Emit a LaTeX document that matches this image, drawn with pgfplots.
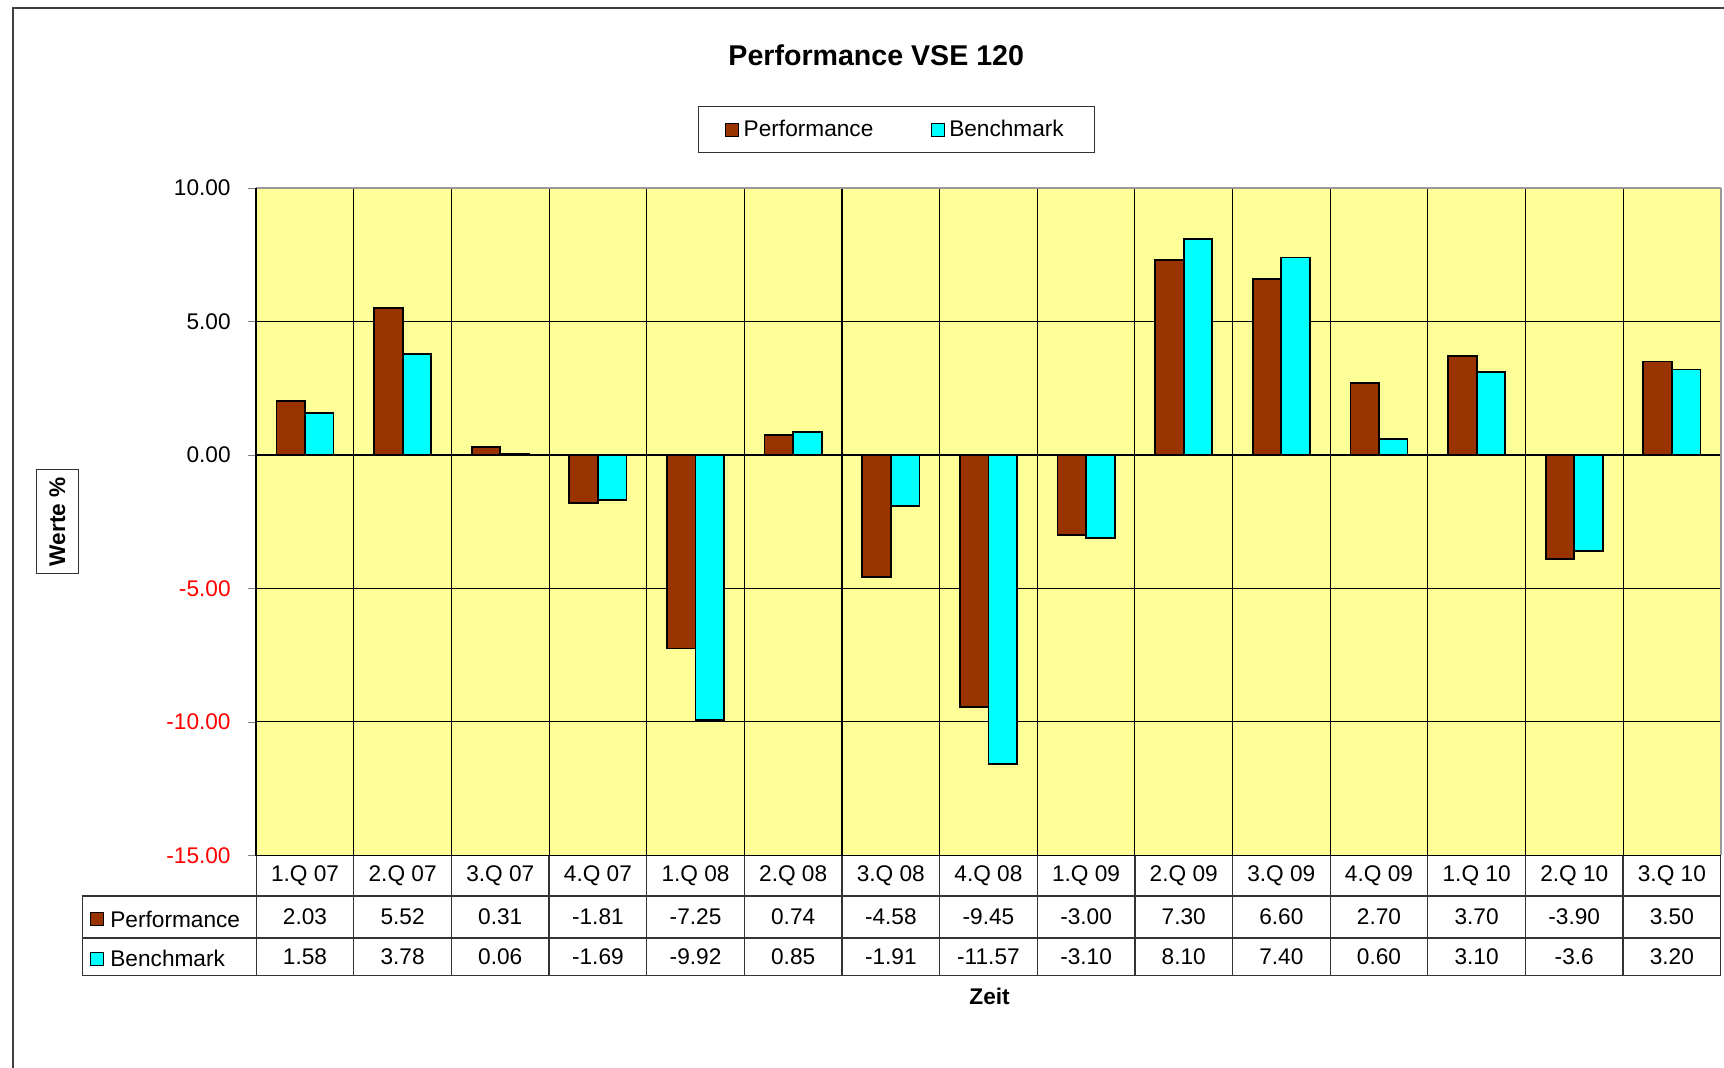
\documentclass[border=0pt]{standalone}
\usepackage{fontspec}
\setmainfont{Liberation Sans}
\usepackage{pgfplots}
\usepackage{pgfplotstable}
\pgfplotsset{compat=1.18}

\definecolor{perfcol}{HTML}{993300}
\definecolor{benchcol}{HTML}{00FFFF}
\definecolor{plotbg}{HTML}{FFFF99}

\newcommand\rowfont{\fontsize{10.3}{12}\selectfont}

\pgfplotstableread[col sep=comma]{
idx,cat,perf,bench
1,1.Q 07,2.03,1.58
2,2.Q 07,5.52,3.78
3,3.Q 07,0.31,0.06
4,4.Q 07,-1.81,-1.69
5,1.Q 08,-7.25,-9.92
6,2.Q 08,0.74,0.85
7,3.Q 08,-4.58,-1.91
8,4.Q 08,-9.45,-11.57
9,1.Q 09,-3.00,-3.10
10,2.Q 09,7.30,8.10
11,3.Q 09,6.60,7.40
12,4.Q 09,2.70,0.60
13,1.Q 10,3.70,3.10
14,2.Q 10,-3.90,-3.6
15,3.Q 10,3.50,3.20
}\vsedata

\begin{document}
\begin{tikzpicture}
\useasboundingbox (0,0) rectangle (784pt,-485.5pt);
% outer chart frame (right and bottom edges lie outside the picture)
\begin{scope}
  \clip (0,0) rectangle (784pt,-485.5pt);
  \draw[black!75, line width=0.8pt] (6pt,-500pt) -- (6pt,-3.5pt) -- (800pt,-3.5pt);
\end{scope}

% data table grid under the plot
\draw[black!80, line width=0.6pt] (37.5pt,-407.5pt) -- (782.5pt,-407.5pt)
  (37.5pt,-426.5pt) -- (782.5pt,-426.5pt)
  (37.5pt,-443.5pt) -- (782.5pt,-443.5pt)
  (37.5pt,-407.5pt) -- (37.5pt,-443.5pt);
\foreach \k in {0,...,15}
  \draw[black!80, line width=0.6pt] ({116.5pt+\k*44.4pt},-389pt) -- ++(0,-54.5pt);
\draw[fill=perfcol, line width=0.5pt] (41pt,-415pt) rectangle (47pt,-421pt);
\draw[fill=benchcol, line width=0.5pt] (41pt,-433pt) rectangle (47pt,-439pt);
\node[anchor=west, font=\rowfont, inner sep=0pt] at (50pt,-418pt) {Performance};
\node[anchor=west, font=\rowfont, inner sep=0pt] at (50pt,-436pt) {Benchmark};

\begin{axis}[
  at={(116.5pt,-85.5pt)}, anchor=north west,
  scale only axis, width=666pt, height=303.5pt,
  xmin=0.5, xmax=15.5, ymin=-15, ymax=10,
  ytick={-15,-10,...,10},
  yticklabels={\textcolor{red}{-15.00},\textcolor{red}{-10.00},\textcolor{red}{-5.00},0.00,5.00,10.00},
  xtick={1,...,15}, xticklabels={},
  minor x tick num=1,
  xminorgrids, ymajorgrids,
  grid style={black, line width=0.5pt},
  minor grid style={black, line width=0.5pt},
  xtick style={draw=none},
  minor x tick style={draw=none},
  tick align=outside, major tick length=3.6pt,
  ytick pos=left,
  separate axis lines,
  x axis line style={gray!80, line width=0.8pt},
  y axis line style={gray!80, line width=0.8pt},
  axis background/.style={fill=plotbg},
  clip=false,
  tick label style={font=\rowfont},
  yticklabel style={xshift=-4.5pt},
  title={\bfseries Performance VSE 120},
  title style={at={(0.4234,1.1795)}, anchor=center, font=\fontsize{13}{15}\selectfont},
  xlabel={\bfseries Zeit},
  xlabel style={at={(0.5008,-0.2109)}, anchor=center, font=\rowfont},
  ylabel={\bfseries Werte \%},
  ylabel style={at={(-0.1357,0.5)}, anchor=center, font=\rowfont,
    draw=black!80, line width=0.6pt, inner xsep=3.4pt, inner ysep=6pt},
  legend style={at={(0.4373,1.0873)}, anchor=center, draw=black!80,
    line width=0.6pt, font=\rowfont, legend columns=2,
    /tikz/every even column/.append style={column sep=24pt},
    inner xsep=12pt, inner ysep=4pt},
  legend cell align=left,
  legend image code/.code={\draw[#1, draw=black, line width=0.5pt] (0pt,-3pt) rectangle (6pt,3pt);},
]
\addplot[ybar, bar width=13pt, bar shift=-6.5pt, fill=perfcol, draw=black, line width=0.8pt]
  table[x=idx, y=perf]{\vsedata};
\addplot[ybar, bar width=13pt, bar shift=6.5pt, fill=benchcol, draw=black, line width=0.8pt]
  table[x=idx, y=bench]{\vsedata};
\legend{Performance, Benchmark}

% data table rows: category names and values, set along the axis bottom
\addplot[draw=none, forget plot, point meta=explicit symbolic, nodes near coords,
  every node near coord/.append style={anchor=center, yshift=-9.25pt, font=\rowfont, text=black}]
  table[x=idx, y expr=-15, meta=cat]{\vsedata};
\addplot[draw=none, forget plot, point meta=explicit symbolic, nodes near coords,
  every node near coord/.append style={anchor=center, yshift=-28pt, font=\rowfont, text=black}]
  table[x=idx, y expr=-15, meta=perf]{\vsedata};
\addplot[draw=none, forget plot, point meta=explicit symbolic, nodes near coords,
  every node near coord/.append style={anchor=center, yshift=-46pt, font=\rowfont, text=black}]
  table[x=idx, y expr=-15, meta=bench]{\vsedata};

\draw[black, line width=0.8pt] (rel axis cs:0,1) -- (rel axis cs:0,0) -- (rel axis cs:1,0);
\end{axis}
\end{tikzpicture}
\end{document}
